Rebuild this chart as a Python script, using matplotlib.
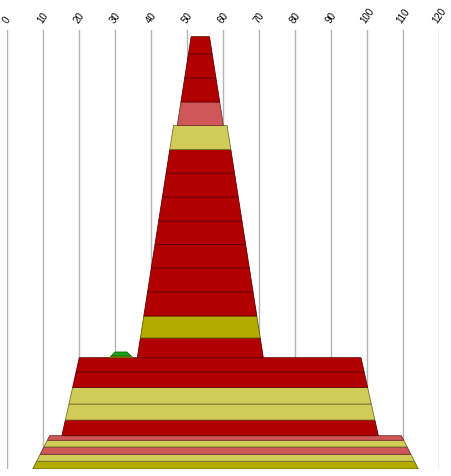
import matplotlib.pyplot as plt
import matplotlib.colors as mcolors

RED = '#b20000'
OLIVE = '#b3ab00'
LYEL = '#d1cb57'
PINK = '#d05757'
GREEN = '#16a816'

ticks = [0, 10, 20, 30, 40, 50, 60, 70, 80, 90, 100, 110, 120]

# base block (bottom)
base_center = 60.7
base_width = [107.1, 97.7]
base_heights = [0.77, 0.70, 0.73, 0.67, 0.46]
base_colors = [OLIVE, LYEL, PINK, LYEL, PINK]

# middle block
mid_center = 59.2
mid_width = [87.9, 78.25]
mid_heights = [1.57, 1.60, 1.66, 1.54, 1.43]
mid_colors = [RED, LYEL, LYEL, RED, RED]

# tower, lower part
tower_center = 53.7
tower_width = [35.0, 14.86]
tower_heights = [1.97, 2.2, 2.4, 2.4, 2.36, 2.34, 2.4, 2.4, 2.36, 2.4]
tower_colors = [RED, OLIVE, RED, RED, RED, RED, RED, RED, RED, LYEL]

# tower, upper part
top_width = [12.8, 5.1]
top_heights = [2.34, 2.4, 2.4, 1.73]
top_colors = [PINK, RED, RED, RED]

# small bump on the middle block
bump_center = 31.7
bump_width = [6.5, 3.25]
bump_heights = [0.17, 0.40]
bump_colors = [OLIVE, GREEN]


def darker(c, f=0.55):
    r, g, b = mcolors.to_rgb(c)
    return (r * f, g * f, b * f)


def draw_block(ax, center, widths, y0, heights, colors):
    total = sum(heights)
    w0, w1 = widths
    y = y0
    for h, c in zip(heights, colors):
        wb = w0 + (w1 - w0) * (y - y0) / total
        wt = w0 + (w1 - w0) * (y + h - y0) / total
        xs = [center - wb / 2, center + wb / 2, center + wt / 2, center - wt / 2]
        ys = [y, y, y + h, y + h]
        ax.fill(xs, ys, facecolor=c, edgecolor=darker(c), linewidth=0.6, zorder=3)
        y += h
    return y


fig = plt.figure(figsize=(4.52, 4.77), dpi=100)
ax = fig.add_axes([7 / 452, 7 / 477, 432 / 452, 439 / 477])

y = draw_block(ax, base_center, base_width, 0, base_heights, base_colors)
y = draw_block(ax, mid_center, mid_width, y, mid_heights, mid_colors)
draw_block(ax, bump_center, bump_width, y, bump_heights, bump_colors)
y = draw_block(ax, tower_center, tower_width, y, tower_heights, tower_colors)
draw_block(ax, tower_center, top_width, y, top_heights, top_colors)

ax.set_xlim(0, 120)
ax.set_ylim(0, 43.9)
ax.set_xticks(ticks)
ax.set_xticklabels([str(t) for t in ticks], rotation=55, ha='center',
                   fontsize=7, family='Liberation Sans')
ax.xaxis.tick_top()
ax.tick_params(axis='x', length=0, pad=4.5)
ax.set_yticks([])
ax.xaxis.grid(True, color='#b4b4b4', linewidth=1)
ax.set_axisbelow(True)
for s in ax.spines.values():
    s.set_visible(False)

fig.savefig('out.png', dpi=100)
